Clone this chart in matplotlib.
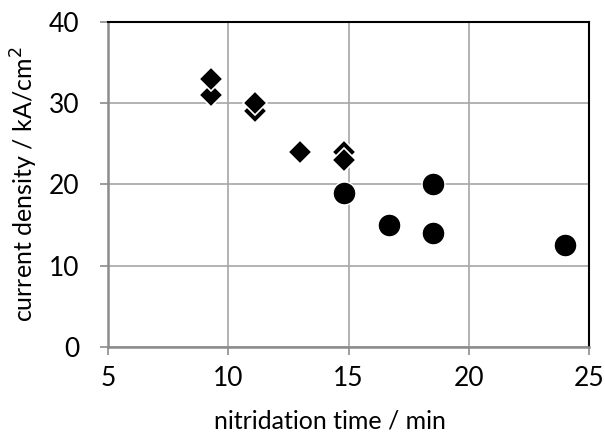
import matplotlib
matplotlib.use("Agg")
import matplotlib.pyplot as plt

diamond_x = [9.3, 9.3, 11.1, 11.1, 13.0, 14.8, 14.8]
diamond_y = [31.0, 33.0, 29.0, 30.0, 24.0, 24.0, 23.0]
circle_x = [14.8, 16.7, 18.5, 18.5, 24.0]
circle_y = [19.0, 15.0, 20.0, 14.0, 12.5]
x_ticks = [5, 10, 15, 20, 25]
y_ticks = [0, 10, 20, 30, 40]

plt.rcParams['font.family'] = ['Lato', 'DejaVu Sans']

fig = plt.figure(figsize=(6.05, 4.36), dpi=100)
ax = fig.add_axes([108/605, 1-347/436, (589-108)/605, (347-22)/436])

ax.set_xlim(5, 25)
ax.set_ylim(0, 40)
ax.set_xticks(x_ticks)
ax.set_yticks(y_ticks)
ax.grid(True, color='#a6a6a6', linewidth=1.2)
ax.set_axisbelow(True)

ax.plot(diamond_x, diamond_y, linestyle='none', marker='D', markersize=12,
        markerfacecolor='black', markeredgecolor='white', markeredgewidth=1.2, zorder=3)
ax.plot(circle_x, circle_y, linestyle='none', marker='o', markersize=16.5,
        markerfacecolor='black', markeredgecolor='white', markeredgewidth=1.0, zorder=3)

for s in ['left', 'bottom']:
    ax.spines[s].set_color('#8c8c8c')
    ax.spines[s].set_linewidth(1.8)
for s in ['top', 'right']:
    ax.spines[s].set_color('black')
    ax.spines[s].set_linewidth(1.5)

ax.tick_params(axis='both', direction='out', length=6, width=1.2, color='#8c8c8c',
               labelsize=19, labelcolor='black')
ax.tick_params(axis='y', pad=14.5)
ax.tick_params(axis='x', pad=8)
ax.set_xlabel('nitridation time / min', fontsize=18)
ax.set_ylabel('current density / kA/cm$^2$', fontsize=18)
ax.xaxis.set_label_coords((330-108)/481, -(421-347)/325, transform=ax.transAxes)
ax.xaxis.label.set_va('center')
ax.yaxis.set_label_coords(-(108-24)/481, 0.5, transform=ax.transAxes)
ax.yaxis.label.set_va('center')

fig.savefig('out.png', dpi=100)
